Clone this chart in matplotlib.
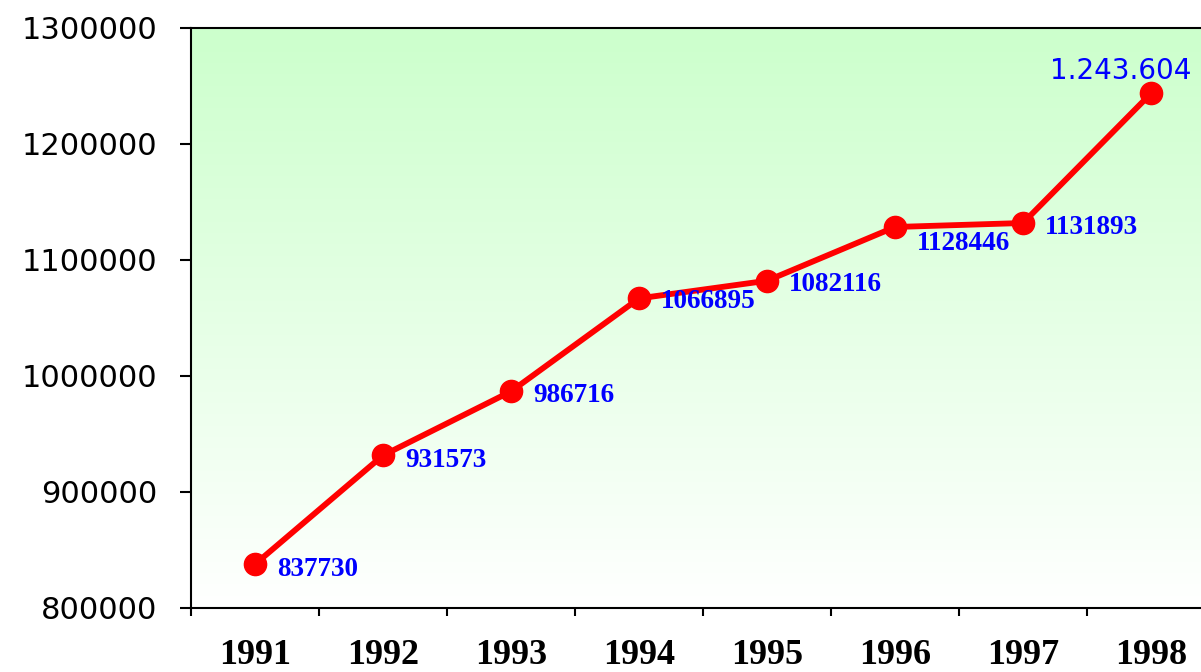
import matplotlib
matplotlib.use('agg')
import numpy as np
import matplotlib.pyplot as plt
from matplotlib.colors import LinearSegmentedColormap

years = ['1991', '1992', '1993', '1994', '1995', '1996', '1997', '1998']
values = [837730, 931573, 986716, 1066895, 1082116, 1128446, 1131893, 1243604]
point_labels = ['837730', '931573', '986716', '1066895', '1082116', '1128446', '1131893', '1.243.604']
y_ticks = [800000, 900000, 1000000, 1100000, 1200000, 1300000]

fig = plt.figure(figsize=(12.01, 6.72), dpi=100)
ax = fig.add_axes([191/1201., 64/672., 1024/1201., 580/672.])

# green to white background
grad = np.linspace(0, 1, 256).reshape(-1, 1)
cmap = LinearSegmentedColormap.from_list('bg', ['#ffffff', '#ccffcc'])
ax.imshow(grad, cmap=cmap, aspect='auto', extent=[0, 1, 0, 1], transform=ax.transAxes,
          origin='lower', zorder=0)

xs = np.arange(len(years)) + 0.5
ax.plot(xs, values, color='#ff0000', lw=4.2, marker='o', ms=16, zorder=3)

# data labels
offsets = [(16, -4), (16, -4), (16, -3), (16, -2), (16, -3), (16, -12), (16, -3)]
for i in range(len(values) - 1):
	ax.annotate(point_labels[i], (xs[i], values[i]), xytext=offsets[i], textcoords='offset points',
	            ha='left', va='center', color='#0000ff', fontsize=19.5, fontweight='bold',
	            family='Liberation Serif', zorder=4)
ax.annotate(point_labels[-1], (xs[-1], values[-1]), xytext=(-22, 16), textcoords='offset points',
            ha='center', va='center', color='#0000ff', fontsize=20, family='DejaVu Sans', zorder=4)

ax.set_xlim(0, len(years))
ax.set_ylim(800000, 1300000)
ax.set_yticks(y_ticks)
ax.set_yticklabels([str(v) for v in y_ticks], fontsize=22, family='DejaVu Sans')
ax.set_xticks(np.arange(len(years) + 1))
ax.set_xticklabels([])
ax.set_xticks(xs, minor=True)
ax.set_xticklabels(years, minor=True, fontsize=26, fontweight='bold', family='Liberation Serif')
ax.tick_params(axis='x', which='major', direction='out', length=6, width=1.5)
ax.tick_params(axis='x', which='minor', length=0, pad=22)
ax.tick_params(axis='y', direction='out', length=8, width=1.5, pad=16)

for s in ['left', 'bottom', 'top', 'right']:
	ax.spines[s].set_linewidth(1.5)

plt.savefig('out.png', dpi=100)
